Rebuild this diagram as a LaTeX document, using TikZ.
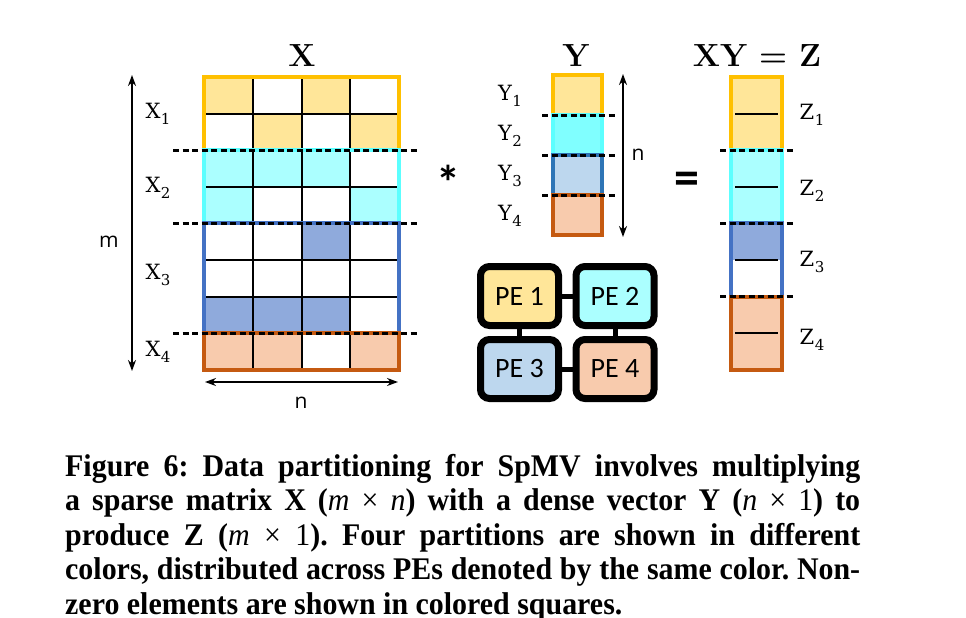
\documentclass[tikz,border=0pt]{standalone}
\usepackage{fontspec}
\newfontfamily\capfont[FakeStretch=0.95]{Liberation Serif}
\newfontfamily\pefont{Carlito}
\newfontfamily\dimfont{Open Sans}
\newfontfamily\labfont{DejaVu Serif}
\usetikzlibrary{arrows.meta}
\definecolor{yfill}{HTML}{FFE699}
\definecolor{yedge}{HTML}{FFC000}
\definecolor{cfill}{HTML}{ABFFFF}
\definecolor{cfillb}{HTML}{80FFFF}
\definecolor{cedge}{HTML}{5CFFFF}
\definecolor{bfill}{HTML}{8FAADC}
\definecolor{bedge}{HTML}{4472C4}
\definecolor{bfillb}{HTML}{BDD7EE}
\definecolor{bedgeb}{HTML}{2E75B6}
\definecolor{ofill}{HTML}{F8CBAD}
\definecolor{oedge}{HTML}{C55A11}
\newcommand\xcell[3]{\fill[#3] ({204+48.75*#1},{77+36.6*#2}) rectangle ++(48.75,36.6);}
\newcommand\sublab[2]{#1\kern0.5pt\raisebox{-6pt}{\fontsize{15}{15}\selectfont #2}}
\frenchspacing
\begin{document}
\begin{tikzpicture}[x=1pt,y=-1pt,
  gridline/.style={line width=2pt,black},
  blk/.style={line width=4pt},
  sep/.style={line width=3pt,dash pattern=on 6pt off 3.5pt},
  dim/.style={line width=1.8pt,{Stealth[length=11pt,width=8pt]}-{Stealth[length=11pt,width=8pt]}},
  lab/.style={font=\labfont\fontsize{21}{21}\selectfont,inner sep=0pt},
  ttl/.style={font=\fontsize{32}{32}\selectfont\bfseries,inner sep=0pt},
  dimlab/.style={font=\dimfont\fontsize{21}{21}\selectfont,inner sep=0pt},
  pe/.style={draw,line width=7pt,rounded corners=9pt,minimum width=78pt,minimum height=59pt,inner sep=0pt,font=\pefont\fontsize{28}{28}\selectfont},
  link/.style={line width=5pt},
  captext/.style={anchor=base west,inner sep=0pt,font=\capfont\bfseries\fontsize{31.5}{35}\selectfont}]
\useasboundingbox (0,0) rectangle (966,618);
% ---------- matrix X ----------
\xcell{0}{0}{yfill}\xcell{2}{0}{yfill}
\xcell{1}{1}{yfill}\xcell{3}{1}{yfill}
\xcell{0}{2}{cfill}\xcell{1}{2}{cfill}\xcell{2}{2}{cfill}
\xcell{0}{3}{cfill}\xcell{3}{3}{cfill}
\xcell{2}{4}{bfill}
\xcell{0}{6}{bfill}\xcell{1}{6}{bfill}\xcell{2}{6}{bfill}
\xcell{0}{7}{ofill}\xcell{1}{7}{ofill}\xcell{3}{7}{ofill}
\foreach \i in {1,2,3} \draw[gridline] ({204+48.75*\i},77) -- ({204+48.75*\i},369.8);
\foreach \j in {1,...,7} \draw[gridline] (204,{77+36.6*\j}) -- (399,{77+36.6*\j});
\draw[blk,yedge] (204,77) rectangle (399,150.2);
\draw[blk,cedge] (204,150.2) rectangle (399,223.4);
\draw[blk,bedge] (204,223.4) rectangle (399,333.2);
\draw[blk,oedge] (204,333.2) rectangle (399,369.8);
\draw[sep] (173,150.2) -- (418,150.2);
\draw[sep] (173,223.4) -- (418,223.4);
\draw[sep] (173,333.2) -- (418,333.2);
\node[ttl] (tx) at (302,56) {X};
\node[lab] (x1) at (158,114) {\sublab{X}{1}};
\node[lab] (x2) at (158,188) {\sublab{X}{2}};
\node[lab] (x3) at (158,275) {\sublab{X}{3}};
\node[lab] (x4) at (158,352) {\sublab{X}{4}};
\coordinate (mt) at (132,75);
\coordinate (mb) at (132,371);
\draw[dim] (mt) -- (mb);
\node[dimlab] (ml) at (109,242) {m};
\coordinate (nl) at (205,382);
\coordinate (nr) at (398,382);
\draw[dim] (nl) -- (nr);
\node[dimlab] (nlab) at (301,403) {n};
% ---------- operator ----------
\node[inner sep=0pt,anchor=base,font=\pefont\bfseries\fontsize{48}{48}\selectfont] (star) at (448,199) {*};
% ---------- vector Y ----------
\fill[yfill] (553,75) rectangle (602,115);
\fill[cfillb] (553,115) rectangle (602,155);
\fill[bfillb] (553,155) rectangle (602,195);
\fill[ofill] (553,195) rectangle (602,235);
\draw[blk,yedge] (553,75) rectangle (602,115);
\draw[blk,cedge] (553,115) rectangle (602,155);
\draw[blk,bedgeb] (553,155) rectangle (602,195);
\draw[blk,oedge] (553,195) rectangle (602,235);
\draw[sep] (542,115) -- (615,115);
\draw[sep] (542,155) -- (615,155);
\draw[sep] (542,195) -- (615,195);
\node[ttl] (ty) at (576,56) {Y};
\node[lab] (y1) at (510,96) {\sublab{Y}{1}};
\node[lab] (y2) at (510,136) {\sublab{Y}{2}};
\node[lab] (y3) at (510,176) {\sublab{Y}{3}};
\node[lab] (y4) at (510,216) {\sublab{Y}{4}};
\coordinate (yt) at (623,74);
\coordinate (yb) at (623,237);
\draw[dim] (yt) -- (yb);
\node[dimlab] (yn) at (638,155) {n};
% ---------- PEs ----------
\node[pe,fill=yfill] (pe1) at (519.5,296) {PE 1};
\node[pe,fill=cfill] (pe2) at (615,296) {PE 2};
\node[pe,fill=bfillb] (pe3) at (519.5,369) {PE 3};
\node[pe,fill=ofill] (pe4) at (615,369) {PE 4};
\draw[link] (pe1) -- (pe2);
\draw[link] (pe1) -- (pe3);
\draw[link] (pe2) -- (pe4);
\draw[link] (pe3) -- (pe4);
% ---------- equals ----------
\node[inner sep=0pt,anchor=base,font=\pefont\bfseries\fontsize{50}{50}\selectfont] (eq) at (687,194) {=};
% ---------- vector Z ----------
\fill[yfill] (731,77) rectangle (782,150.2);
\fill[cfill] (731,150.2) rectangle (782,223.4);
\fill[bfill] (731,223.4) rectangle (782,260);
\fill[ofill] (731,296.6) rectangle (782,369.8);
\foreach \j in {1,3,5,7} \draw[gridline] (735,{77+36.6*\j}) -- (778,{77+36.6*\j});
\draw[blk,yedge] (731,77) rectangle (782,150.2);
\draw[blk,cedge] (731,150.2) rectangle (782,223.4);
\draw[blk,bedge] (731,223.4) rectangle (782,296.6);
\draw[blk,oedge] (731,296.6) rectangle (782,369.8);
\draw[sep] (720,150.2) -- (793,150.2);
\draw[sep] (720,223.4) -- (793,223.4);
\draw[sep] (720,296.6) -- (793,296.6);
\node[ttl] (tz) at (757,56) {XY = Z};
\node[lab] (z1) at (812,115) {\sublab{Z}{1}};
\node[lab] (z2) at (812,191) {\sublab{Z}{2}};
\node[lab] (z3) at (812,262) {\sublab{Z}{3}};
\node[lab] (z4) at (812,340) {\sublab{Z}{4}};
% ---------- caption ----------
\node[captext] (c1) at (65,476) {\makebox[795pt][s]{Figure 6: Data partitioning for SpMV involves multiplying}};
\node[captext] (c2) at (65,510.5) {\makebox[795pt][s]{a sparse matrix X (\textmd{\textit{m} × \textit{n}}) with a dense vector Y (\textmd{\textit{n} × 1}) to}};
\node[captext] (c3) at (65,545) {\makebox[795pt][s]{produce Z (\textmd{\textit{m} × 1}). Four partitions are shown in different}};
\node[captext] (c4) at (65,579.5) {\makebox[795pt][s]{colors, distributed across PEs denoted by the same color. Non-}};
\node[captext] (c5) at (65,614) {zero elements are shown in colored squares.};
\end{tikzpicture}
\end{document}
